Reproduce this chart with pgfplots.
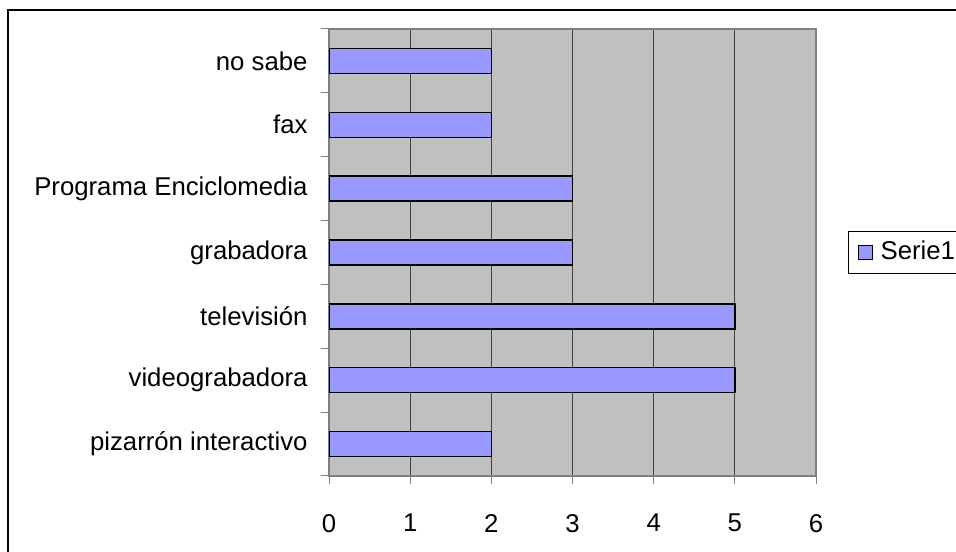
\documentclass[border=0pt]{standalone}
\usepackage{pgfplots}
\pgfplotsset{compat=1.18}
\usepackage{fontspec}
\setmainfont{Liberation Sans}
\definecolor{barfill}{RGB}{153,153,255}
\definecolor{plotbg}{RGB}{192,192,192}
\definecolor{frameline}{RGB}{128,128,128}
\newcommand{\chartfont}{\fontsize{19.3pt}{22pt}\selectfont}
\begin{document}
\chartfont
\begin{tikzpicture}
\useasboundingbox (0,0) rectangle (717pt,414pt);
% outer chart frame
\draw[line width=1.5pt] (6pt,-20pt) -- (6pt,406.5pt) -- (740pt,406.5pt);
\begin{axis}[
  at={(246.75pt,57pt)}, anchor=south west,
  width=365.25pt, height=335.25pt, scale only axis,
  xbar, bar width=18.75pt,
  xmin=0, xmax=6, ymin=-0.5, ymax=6.5,
  xtick={0,...,6},
  ytick={-0.5,0.5,...,6.5},
  yticklabels={},
  extra y ticks={0,...,6},
  extra y tick labels={pizarrón interactivo, videograbadora, televisión, grabadora, Programa Enciclomedia, fax, no sabe},
  extra y tick style={major tick length=0pt, yticklabel style={xshift=-9.5pt}},
  xtick pos=bottom, ytick pos=left,
  tick align=outside,
  major tick length=6pt,
  tick style={frameline, line width=0.75pt},
  axis line style={frameline, line width=1pt},
  axis background/.style={fill=plotbg},
  xmajorgrids, major grid style={black!75, line width=0.75pt},
  ymajorgrids=false,
  /pgf/number format/assume math mode=true,
  xticklabel style={font=\chartfont, yshift=-16pt},
  yticklabel style={font=\chartfont},
  legend style={at={(1.0657,0.5)}, anchor=west, draw=black, line width=0.75pt,
    font=\chartfont, inner xsep=0pt, inner ysep=5pt},
  legend image code/.code={%
    \path (-7pt,0pt);
    \draw[#1, draw=black, line width=1pt] (0pt,-5.25pt) rectangle (10.5pt,5.25pt);
    \path (14pt,0pt);},
]
\addplot[fill=barfill, draw=black, line width=1.1pt] coordinates {
  (2,0) (5,1) (5,2) (3,3) (3,4) (2,5) (2,6)
};
\addlegendentry{Serie1\hspace{24pt}}
\end{axis}
\end{tikzpicture}
\end{document}
